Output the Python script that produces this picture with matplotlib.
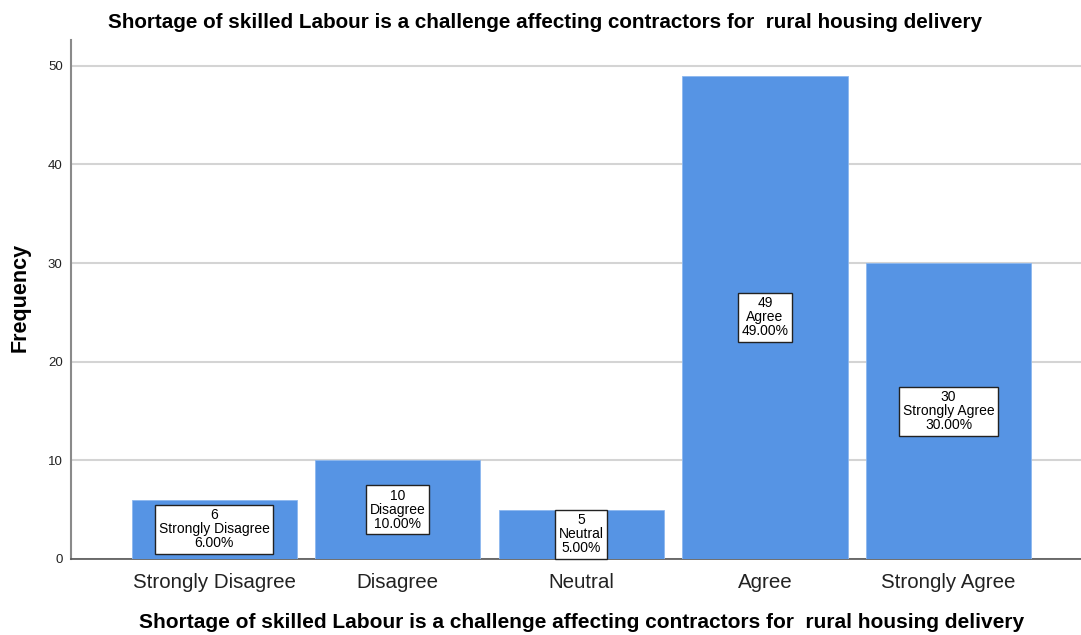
import matplotlib
matplotlib.use('Agg')
from matplotlib import pyplot as plt

plt.rcParams['font.family'] = ['Liberation Sans', 'DejaVu Sans']

categories = ['Strongly Disagree', 'Disagree', 'Neutral', 'Agree', 'Strongly Agree']
counts = [6, 10, 5, 49, 30]
percents = ['6.00%', '10.00%', '5.00%', '49.00%', '30.00%']
title = 'Shortage of skilled Labour is a challenge affecting contractors for  rural housing delivery'

fig = plt.figure(figsize=(10.81, 6.35), dpi=100)
ax = fig.add_axes([0.0657, 0.1197, 0.934, 0.817])

x = list(range(len(categories)))
ax.bar(x, counts, width=0.9, color='#5694e4', edgecolor='#8db8ef', linewidth=0.6, zorder=3)

for xi, c, p, cat in zip(x, counts, percents, categories):
    ax.text(xi, c / 2, f'{c}\n{cat}\n{p}', ha='center', va='center', fontsize=10,
            linespacing=1.0, zorder=4,
            bbox=dict(boxstyle='square,pad=0.25', facecolor='white', edgecolor='#222222', linewidth=1.0))

ax.set_xlim(-0.78, 4.72)
ax.set_ylim(0, 52.6)
ax.set_yticks([0, 10, 20, 30, 40, 50])
ax.set_xticks(x)
ax.set_xticklabels(categories, fontsize=14.8, color='#222222')
ax.tick_params(axis='y', labelsize=9.5, length=0, pad=6, colors='#222222')
ax.tick_params(axis='x', length=0, pad=10)
ax.grid(axis='y', color='#d4d4d4', linewidth=1.5, zorder=0)
for s in ['top', 'right']:
    ax.spines[s].set_visible(False)
ax.spines['left'].set_color('#8a8a8a')
ax.spines['left'].set_linewidth(1.5)
ax.spines['bottom'].set_color('#555555')
ax.spines['bottom'].set_linewidth(1.2)

ax.set_ylabel('Frequency', fontsize=15.5)
ax.yaxis.label.set_fontweight('bold')
ax.yaxis.set_label_coords(-0.040, 0.505)
ax.set_xlabel(title, fontsize=15, fontweight='bold')
ax.xaxis.set_label_coords(0.5056, -0.105)
fig.text(0.504, 0.965, title, ha='center', va='center', fontsize=14.9, fontweight='bold')

fig.savefig('out.png', dpi=100)
